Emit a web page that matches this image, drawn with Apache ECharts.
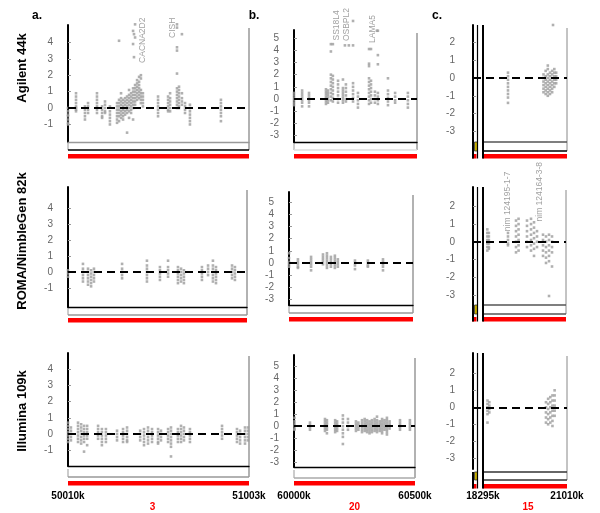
<!DOCTYPE html>
<html><head><meta charset="utf-8">
<script src="https://cdn.jsdelivr.net/npm/echarts@6/dist/echarts.min.js"></script>
<style>html,body{margin:0;padding:0;background:#fff}#c{width:600px;height:513px}</style>
</head><body><div id="c"></div>
<script>
// ---------- DATA ----------
const rowTitles = ['Agilent 44k', 'ROMA/NimbleGen 82k', 'Illumina 109k'];
const panelLetters = ['a.', 'b.', 'c.'];
const chromNames = ['3', '20', '15'];
const xRanges = [[50010, 51003], [60000, 60500], [17972, 21010]];
const xEndLabels = [[50010, 51003], [60000, 60500], [18295, 21010]];
const yTicksA = [-1, 0, 1, 2, 3, 4];
const yTicksB = [-3, -2, -1, 0, 1, 2, 3, 4, 5];
const yTicksC = [-3, -2, -1, 0, 1, 2];

// each entry: [position (kb), [log ratios at that position]]
const agilentA = [
 [50010,[0.0,-0.2,-0.4,-0.5,-0.7,-0.9,-1.0]],
 [50054,[0.9,0.7,0.5,0.3,0.1,0.0,-0.1,-0.2]],
 [50103,[0.1,-0.1,-0.3,-0.5,-0.7]],
 [50120,[0.3,0.1,-0.1,-0.3]],
 [50169,[0.9,0.7,0.5,0.3,0.1,-0.1,-0.3]],
 [50197,[0.1,-0.1,-0.3,-0.5,-0.6]],
 [50213,[0.4,0.2,0.0,-0.2,-0.3]],
 [50240,[0.1,-0.2,-0.4,-0.6,-0.8,-1.0]],
 [50279,[0.3,0.1,-0.1,-0.3,-0.5,-0.7,-0.9]],
 [50290,[4.1,0.5,0.3,0.1,-0.1,-0.3,-0.5,-0.8]],
 [50301,[0.9,0.6,0.4,0.2,0.0,-0.2,-0.4,-0.6]],
 [50312,[0.5,0.3,0.1,-0.1,-0.3,-0.5,-0.7]],
 [50323,[0.6,0.4,0.2,0.0,-0.2,-0.4]],
 [50334,[0.7,0.5,0.3,0.1,-0.1,-0.3,-1.5]],
 [50345,[1.1,0.8,0.6,0.4,0.2,0.0,-0.2,-0.6]],
 [50356,[0.9,0.7,0.5,0.3,0.1,-0.1,-0.3]],
 [50367,[4.7,3.9,1.2,1.0,0.8,0.6,0.4,0.2,0.0,-0.7]],
 [50372,[4.5,3.1]],
 [50378,[5.1,4.3,1.4,1.2,1.0,0.8,0.6,0.4,0.2]],
 [50389,[1.7,1.5,1.3,1.1,0.9,0.7,0.5]],
 [50400,[1.9,1.6,1.4,1.2,1.0,0.8,0.6]],
 [50410,[2.0,1.8,1.1,0.9,0.7,0.5,0.3]],
 [50421,[0.9,0.7,0.5,0.3,0.1]],
 [50504,[0.7,0.5,0.3,0.1,-0.1,-0.3,-0.5]],
 [50559,[0.7,0.5,0.3,0.1,-0.1,-0.2]],
 [50570,[0.9,0.6,0.4,0.2,0.0,-0.2]],
 [50608,[5.1,4.9,3.7,3.5,2.1,1.2,1.0,0.8,0.6,0.4,0.2,0.0]],
 [50619,[1.3,1.1,0.9,0.7,0.5,0.3,0.1,0.0]],
 [50635,[4.5,0.9,0.6,0.4,0.2]],
 [50652,[0.3,0.1,-0.1,-0.3]],
 [50679,[0.2,0.0,-0.2,-0.4,-0.6,-0.8,-1.0]],
 [50849,[0.5,0.3,0.1,-0.1,-0.3,-0.5,-0.8]]
];
const agilentB = [
 [60000,[0.5,0.3,0.1,-0.1,-0.3,-0.5]],
 [60033,[0.7,0.5,0.3,0.1,-0.1,-0.3,-0.6]],
 [60061,[0.5,0.3,0.1,-0.1,-0.3,-0.6]],
 [60130,[0.8,0.6,0.4,0.2,0.0,-0.2,-0.4]],
 [60138,[0.7,0.5,0.3,0.1,-0.1,-0.3]],
 [60150,[4.5,3.9,2.0,1.7,1.4,1.1,0.8,0.5,0.2,-0.1]],
 [60158,[4.5,1.9,1.6,1.3,1.0,0.7,0.4,0.1,-0.2]],
 [60179,[1.5,1.2,0.9,0.6,0.3,0.0,-0.3]],
 [60199,[1.6,0.9,0.7,0.5,0.3,0.1,-0.1,-0.3]],
 [60207,[4.4]],
 [60211,[1.2,0.9,0.6,0.3,0.0,-0.2]],
 [60223,[4.4]],
 [60240,[6.4,4.4,1.3,1.0,0.7,0.4,0.1,-0.2]],
 [60260,[0.5,0.2,-0.1,-0.4,-0.7]],
 [60305,[4.1,2.9,2.7,1.7,1.4,1.1,0.8,0.5,0.2,-0.1,-0.4]],
 [60313,[4.1,1.5,1.2,0.9,0.6,0.3,0.0,-0.3]],
 [60329,[0.6,0.3,0.0,-0.3]],
 [60337,[5.6]],
 [60341,[5.6,3.6,2.85,0.5,0.2,-0.1,-0.4]],
 [60382,[1.7,0.7,0.4,0.1,-0.2,-0.5]],
 [60411,[0.5,0.2,-0.1,-0.3]],
 [60463,[0.5,0.2,-0.1,-0.4,-0.7]]
];
const agilentC = [
 [19103,[0.3,0.1,-0.1,-0.3,-0.5,-0.7,-0.9,-1.1,-1.4]],
 [20250,[0.2,0.0,-0.2,-0.4,-0.6,-0.8]],
 [20320,[0.4,0.1,-0.1,-0.3,-0.5,-0.7,-0.9]],
 [20390,[0.7,0.5,0.2,0.0,-0.2,-0.4,-0.6,-0.8,-1.0]],
 [20460,[0.3,0.1,-0.1,-0.3,-0.5,-0.7,-0.9]],
 [20530,[0.4,0.2,0.0,-0.2,-0.4,-0.6,-0.8]],
 [20558,[2.98]],
 [20600,[0.5,0.3,0.1,-0.1,-0.3,-0.5]],
 [20660,[0.3,0.1,-0.1,-0.3]]
];
const romaA = [
 [50010,[0.1,-0.1,-0.3]],
 [50093,[0.5,0.2,0.0,-0.2,-0.4,-0.6]],
 [50121,[0.2,0.0,-0.2,-0.4,-0.6,-0.8]],
 [50138,[0.1,-0.1,-0.3,-0.5,-0.7,-0.9]],
 [50154,[0.2,0.0,-0.2,-0.4,-0.6]],
 [50310,[0.5,0.2,0.0,-0.2,-0.4]],
 [50448,[0.7,0.4,0.2,0.0,-0.2,-0.4,-0.6]],
 [50520,[0.3,0.1,-0.1,-0.3,-0.5]],
 [50565,[0.7,0.3,0.1,-0.1,-0.3]],
 [50620,[0.3,0.1,-0.1,-0.3,-0.5,-0.7]],
 [50637,[0.2,0.0,-0.2,-0.4,-0.6]],
 [50653,[0.1,-0.1,-0.3,-0.5,-0.7]],
 [50753,[0.3,0.1,-0.1,-0.3,-0.5]],
 [50787,[0.4,0.2,0.0,-0.2]],
 [50814,[0.7,0.4,0.2,0.0,-0.2,-0.4,-0.6]],
 [50831,[0.3,0.1,-0.1,-0.3,-0.5,-0.7]],
 [50920,[0.4,0.2,0.0,-0.2,-0.4]],
 [50936,[0.3,0.1,-0.1,-0.3,-0.5]]
];
const romaB = [
 [60000,[0.8,0.4,0.1,-0.1,-0.3]],
 [60036,[0.3,0.1,-0.1,-0.3,-0.4]],
 [60089,[0.5,0.3,0.1,-0.1,-0.3,-0.6]],
 [60137,[0.7,0.5,0.3,0.1,-0.1]],
 [60153,[0.8,0.6,0.4,0.2,0.0,-0.2,-0.4]],
 [60169,[0.5,0.3,0.1,-0.1,-0.3]],
 [60185,[0.6,0.4,0.2,0.0,-0.2,-0.4]],
 [60197,[0.3,0.1,-0.1,-0.3]],
 [60266,[0.2,0.0,-0.2,-0.5]],
 [60318,[0.2,0.0,-0.2,-0.3]],
 [60379,[0.3,0.1,-0.1,-0.3,-0.6]]
];
const romaC = [
 [18440,[0.7,0.5,0.3,0.1,-0.1,-0.3,-0.5]],
 [18490,[0.5,0.3,0.1,-0.1,-0.3,-0.4]],
 [19115,[0.5,0.3,0.1,-0.1,-0.2]],
 [19377,[1.2,0.9,0.6,0.3,0.0,-0.3,-0.6]],
 [19460,[1.3,1.0,0.7,0.4,0.1,-0.2,-0.5]],
 [19736,[1.2,0.9,0.6,0.3,0.0,-0.3]],
 [19867,[1.3,1.0,0.7,0.4,0.1,-0.2,-0.5]],
 [19965,[1.1,0.8,0.5,0.2,-0.1,-0.4,-0.8]],
 [20063,[0.6,0.3,0.0,-0.3]],
 [20259,[0.4,0.1,-0.2,-0.5,-0.8]],
 [20357,[0.3,0.0,-0.3,-0.6,-0.9,-1.2]],
 [20455,[0.4,0.1,-0.2,-0.5,-0.8,-1.1,-3.07]],
 [20553,[0.3,0.0,-0.3,-0.6,-1.4]]
];
const illuminaA = [
 [50010,[0.7,0.5,0.3,0.1,-0.1,-0.3,-0.5]],
 [50026,[0.4,0.2,0.0,-0.2,-0.4]],
 [50065,[0.7,0.5,0.3,0.1,-0.1,-0.3,-0.5]],
 [50082,[0.6,0.4,0.2,0.0,-0.2,-0.4,-0.6]],
 [50098,[0.5,0.3,0.1,-0.1,-0.3,-0.5,-1.1]],
 [50115,[0.5,0.3,0.1,-0.1,-0.3,-0.7]],
 [50175,[0.5,0.3,0.1,-0.1,-0.3]],
 [50196,[0.3,0.1,-0.1,-0.3,-0.5,-0.7]],
 [50218,[0.3,0.1,-0.1,-0.3,-0.5]],
 [50279,[0.2,0.0,-0.2,-0.4]],
 [50312,[0.3,0.1,-0.1,-0.3,-0.5]],
 [50334,[0.4,0.2,0.0,-0.2,-0.4,-0.5]],
 [50406,[0.2,0.0,-0.2,-0.4]],
 [50427,[0.3,0.1,-0.1,-0.3,-0.5,-0.7]],
 [50449,[0.4,0.2,0.0,-0.2,-0.4,-0.6]],
 [50471,[0.3,0.1,-0.1,-0.3,-0.5]],
 [50504,[0.3,0.1,-0.1,-0.3,-0.5,-0.6]],
 [50520,[0.2,0.0,-0.2,-0.4]],
 [50559,[0.3,0.1,-0.1,-0.3,-0.5]],
 [50575,[0.4,0.2,0.0,-0.2,-0.4,-0.6,-0.8,-1.4]],
 [50613,[0.3,0.1,-0.1,-0.3,-0.5]],
 [50630,[0.5,0.3,0.1,-0.1,-0.3,-0.5]],
 [50646,[0.4,0.2,0.0,-0.2,-0.4]],
 [50679,[0.3,0.1,-0.1,-0.3,-0.5]],
 [50855,[0.5,0.3,0.1,-0.1,-0.3]],
 [50937,[0.3,0.1,-0.1,-0.3,-0.5]],
 [50954,[0.2,0.0,-0.2,-0.4,-0.6]],
 [50981,[0.4,0.2,0.0,-0.2,-0.4,-0.6]],
 [50997,[0.4,0.2,0.0,-0.2,-0.4]]
];
const illuminaB = [
 [60002,[0.7,0.4,0.2,0.0,-0.2,-0.3]],
 [60066,[0.3,0.1,-0.1,-0.3]],
 [60128,[0.6,0.4,0.2,0.0,-0.2,-0.4]],
 [60136,[0.5,0.3,0.1,-0.1,-0.3,-0.6]],
 [60170,[0.5,0.3,0.1,-0.1,-0.3,-0.5]],
 [60178,[0.4,0.2,0.0,-0.2,-0.4]],
 [60202,[0.9,0.6,0.3,0.0,-0.3,-0.6,-0.9,-1.5]],
 [60223,[0.6,0.3,0.0,-0.3]],
 [60256,[0.4,0.2,0.0,-0.2,-0.4]],
 [60266,[0.3,0.1,-0.1,-0.3]],
 [60281,[0.5,0.3,0.1,-0.1,-0.3,-0.5]],
 [60292,[0.6,0.4,0.2,0.0,-0.2,-0.4]],
 [60302,[0.5,0.3,0.1,-0.1,-0.3,-0.5]],
 [60312,[0.4,0.2,0.0,-0.2,-0.4,-0.6]],
 [60322,[0.5,0.3,0.1,-0.1,-0.3,-0.5]],
 [60333,[0.6,0.4,0.2,0.0,-0.2,-0.4]],
 [60343,[0.8,0.5,0.3,0.1,-0.1,-0.3,-0.5]],
 [60354,[0.4,0.2,0.0,-0.2,-0.4]],
 [60364,[0.6,0.4,0.2,0.0,-0.2,-0.4,-0.6]],
 [60374,[0.5,0.3,0.1,-0.1,-0.3]],
 [60384,[0.7,0.5,0.3,0.1,-0.1,-0.3,-0.5,-0.7]],
 [60395,[0.4,0.2,0.0,-0.2]],
 [60438,[0.5,0.3,0.1,-0.1,-0.3]],
 [60479,[0.5,0.3,0.1,-0.1,-0.3]]
];
const illuminaC = [
 [18440,[0.4,0.2,0.0,-0.2,-0.4,-0.9]],
 [18500,[0.3,0.1,-0.1,-0.3]],
 [20330,[0.3,0.0,-0.3,-0.6,-0.9]],
 [20400,[0.5,0.2,-0.1,-0.4,-0.7,-1.0]],
 [20470,[0.6,0.3,0.0,-0.3,-0.6,-0.9]],
 [20540,[0.7,0.4,0.1,-0.2,-0.5,-0.8,-1.1]],
 [20610,[1.0,0.7,0.4,0.1,-0.2,-0.5]]
];
// gene annotations: [position, log ratio at text start, text]
const agilentGenesA = [[50421, 2.75, 'CACNA2D2'], [50586, 4.27, 'CISH']];
const agilentGenesB = [[60175, 4.8, 'SS18L4'], [60215, 4.75, 'OSBPL2'], [60321, 4.6, 'LAMA5']];
const romaGenesC = [[19115, 0.6, 'nim 124195-1-7'], [20160, 1.15, 'nim 124164-3-8']];

const panelData = [
 [agilentA, agilentB, agilentC],
 [romaA, romaB, romaC],
 [illuminaA, illuminaB, illuminaC]
];
const panelGenes = [
 [agilentGenesA, agilentGenesB, []],
 [[], [], romaGenesC],
 [[], [], []]
];
const yTicks = [yTicksA, yTicksB, yTicksC];

// ---------- LAYOUT (pixels) ----------
// [left, right, top, axisBottom, boxBottom, redTop]
const layout = [
 [[68,249,25,142,150,154],[294,417,30,142,150,154],[473,567,25,142,151,154]],
 [[68,247,187,307,315,318],[289,413,192,305,313,317],[473,566,187,305,314,317]],
 [[68,249,353,469,477,481],[294,415,355,470,478,481],[473,567,353,472,480,484]]
];
const yRanges = [
 [[-2.07,5.06],[-3.52,5.66],[-3.6,2.98]],
 [[-2.19,5.3],[-3.44,5.82],[-3.58,3.1]],
 [[-2.0,5.03],[-3.44,5.98],[-3.64,3.2]]
];
const lineColors = [
 [['#999','#000'],['#000','#ddd'],['#555','#000']],
 [['#000','#999'],['#000','#999'],['#555','#555']],
 [['#000','#999'],['#000','#aaa'],['#333','#333']]
];
const titleY = [68, 241, 411];
const FONT = 'Liberation Sans, Arial, sans-serif';

const grids = [], xAxes = [], yAxes = [], series = [], graphics = [];
function flatten(entries){ const out=[]; entries.forEach(([x, vals]) => vals.forEach(v => out.push([x, v]))); return out; }

for (let r = 0; r < 3; r++) {
 for (let c = 0; c < 3; c++) {
  const [L, R, T, B, B2, RT] = layout[r][c];
  const idx = grids.length;
  grids.push({ left: L, top: T, width: R - L, height: B - T, containLabel: false });
  const bottomRow = r === 2;
  const isC = c === 2;
  xAxes.push({
   gridIndex: idx, type: 'value', min: xRanges[c][0], max: xRanges[c][1], position: 'bottom',
   axisLine: { show: !isC, onZero: false, lineStyle: { color: lineColors[r][c][0], width: 1.3 } },
   axisTick: { show: false }, splitLine: { show: false },
   axisLabel: bottomRow ? {
     show: true, customValues: xEndLabels[c], formatter: v => v + 'k',
     margin: c === 0 ? 25 : (c === 1 ? 24 : 22),
     fontSize: 10, fontWeight: 'bold', color: '#000', fontFamily: FONT
   } : { show: false },
   name: bottomRow ? chromNames[c] : '',
   nameLocation: 'middle', nameGap: c === 2 ? 17 : 20,
   nameTextStyle: { color: '#f00', fontWeight: 'bold', fontSize: 10, fontFamily: FONT,
     padding: c === 2 ? [0, 0, 0, 16] : (c === 0 ? [0, 12, 0, 0] : 0) }
  });
  yAxes.push({
   gridIndex: idx, type: 'value', min: yRanges[r][c][0], max: yRanges[r][c][1],
   axisLine: { show: true, onZero: false, lineStyle: { color: '#000', width: 2 } },
   axisTick: { show: true, inside: true, length: 3, customValues: yTicks[c], lineStyle: { color: '#999' } },
   axisLabel: { show: true, customValues: yTicks[c], margin: isC ? 18 : 15, fontSize: 10, color: '#666', fontFamily: FONT },
   splitLine: { show: false }
  });
  series.push({
   type: 'scatter', xAxisIndex: idx, yAxisIndex: idx, clip: false,
   symbol: 'rect', symbolSize: 2.6, itemStyle: { color: '#9c9c9c' },
   data: flatten(panelData[r][c]), silent: true,
   markLine: {
    silent: true, symbol: 'none', label: { show: false }, animation: false,
    lineStyle: { color: '#000', width: 2, type: [8, 5] },
    data: [{ yAxis: 0 }]
   }
  });
  if (panelGenes[r][c].length) {
   series.push({
    type: 'scatter', xAxisIndex: idx, yAxisIndex: idx, clip: false, symbolSize: 0, silent: true,
    data: panelGenes[r][c],
    label: { show: true, formatter: p => p.data[2], rotate: 90, position: [0, 0], align: 'left', verticalAlign: 'middle',
     color: '#888', fontSize: 8.5, fontFamily: FONT }
   });
  }
  // decorations
  if (!isC) {
   graphics.push({ type: 'line', shape: { x1: R, y1: T + 3, x2: R, y2: B2 }, style: { stroke: '#999', lineWidth: 1.5 } });
   graphics.push({ type: 'line', shape: { x1: L, y1: B, x2: L, y2: B2 }, style: { stroke: '#999', lineWidth: 1 } });
   graphics.push({ type: 'line', shape: { x1: L, y1: B2, x2: R, y2: B2 }, style: { stroke: lineColors[r][c][1], lineWidth: 1.3 } });
   graphics.push({ type: 'rect', shape: { x: L, y: RT, width: R - L, height: 4.5 }, style: { fill: '#f00' } });
  } else {
   graphics.push({ type: 'line', shape: { x1: R, y1: T + 3, x2: R, y2: B2 }, style: { stroke: '#888', lineWidth: 1 } });
   graphics.push({ type: 'line', shape: { x1: 483, y1: B, x2: R, y2: B }, style: { stroke: lineColors[r][c][0], lineWidth: 1.3 } });
   graphics.push({ type: 'line', shape: { x1: 483, y1: B2, x2: R, y2: B2 }, style: { stroke: lineColors[r][c][1], lineWidth: 1.3 } });
   graphics.push({ type: 'rect', shape: { x: 472, y: RT, width: R - 472, height: 4.5 }, style: { fill: '#f00' } });
   graphics.push({ type: 'rect', shape: { x: 476.5, y: RT - 1, width: 6, height: 7 }, style: { fill: '#fff' } });
   graphics.push({ type: 'rect', shape: { x: 474.5, y: B, width: 3, height: B2 - B }, style: { fill: '#c8b000', stroke: '#333', lineWidth: 0.8 } });
   graphics.push({ type: 'line', shape: { x1: 473, y1: B, x2: 473, y2: RT + 4.5 }, style: { stroke: '#000', lineWidth: 2 } });
   graphics.push({ type: 'line', shape: { x1: 477.5, y1: T, x2: 477.5, y2: RT + 4.5 }, style: { stroke: '#000', lineWidth: 1.2 } });
   graphics.push({ type: 'line', shape: { x1: 483, y1: T, x2: 483, y2: RT + 4.5 }, style: { stroke: '#000', lineWidth: 2 } });
  }
 }
}
// row titles and panel letters
rowTitles.forEach((t, i) => graphics.push({
 type: 'text', x: 22, y: titleY[i], rotation: Math.PI / 2,
 style: { text: t, fontSize: 13, fontWeight: 'bold', fontFamily: FONT, fill: '#000', align: 'center', verticalAlign: 'middle' }
}));
const letterX = [37, 254, 437];
panelLetters.forEach((t, i) => graphics.push({
 type: 'text', x: letterX[i], y: 16,
 style: { text: t, fontSize: 12, fontWeight: 'bold', fontFamily: FONT, fill: '#000', align: 'center', verticalAlign: 'middle' }
}));

const chart = echarts.init(document.getElementById('c'), null, { renderer: 'canvas' });
chart.setOption({
 animation: false, backgroundColor: '#fff',
 grid: grids, xAxis: xAxes, yAxis: yAxes, series: series, graphic: graphics
});
</script></body></html>
